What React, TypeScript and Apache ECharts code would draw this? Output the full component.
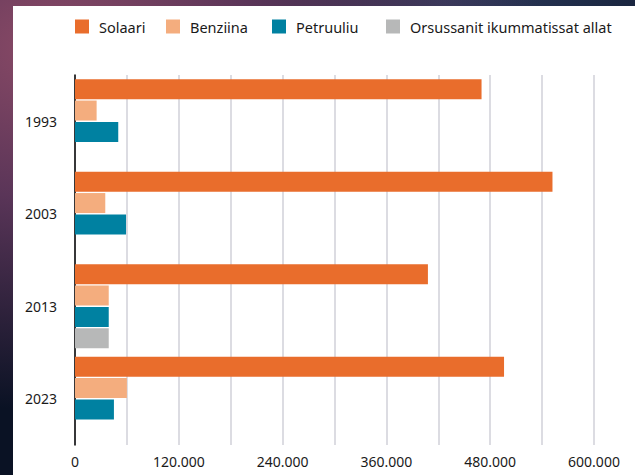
import React, { useEffect, useRef } from "react";
import * as echarts from "echarts";

const years = ["1993", "2003", "2013", "2023"];
const seriesNames = ["Solaari", "Benziina", "Petruuliu", "Orsussanit ikummatissat allat"];
const solaari = [470000, 552000, 408000, 496000];
const benziina = [25000, 35000, 39000, 60000];
const petruuliu = [50000, 59000, 39000, 45000];
const allat: (number | null)[] = [null, null, 39000, null];
const colors = ["#E96D2C", "#F4AD7E", "#0081A1", "#B7B8B8"];
const legendLefts = [75, 166, 272, 386];

const fmt = (v: number) => {
  if (v % 120000 !== 0) return "";
  if (v === 0) return "0";
  const s = String(v);
  return s.slice(0, s.length - 3) + "." + s.slice(s.length - 3);
};

export default function App() {
  const ref = useRef<HTMLDivElement>(null);
  useEffect(() => {
    if (!ref.current) return;
    const chart = echarts.init(ref.current, undefined, { renderer: "svg" });
    const font = "'Noto Sans', sans-serif";
    const values = [solaari, benziina, petruuliu, allat];
    chart.setOption({
      animation: false,
      textStyle: { fontFamily: font },
      graphic: [
        {
          type: "rect",
          left: 13,
          top: 6,
          shape: { width: 622, height: 469 },
          style: { fill: "#ffffff" },
          z: -10,
          silent: true,
        },
      ],
      legend: seriesNames.map((n, i) => ({
        data: [n],
        left: legendLefts[i],
        top: 19,
        padding: 0,
        itemWidth: 14,
        itemHeight: 14,
        icon: "rect",
        selectedMode: false,
        textStyle: {
          fontFamily: font,
          fontSize: 14.5,
          color: "#1a1a1a",
          padding: [0, 0, 0, 5],
        },
      })),
      grid: { left: 75, right: 41, top: 75, bottom: 30, containLabel: false },
      xAxis: {
        type: "value",
        min: 0,
        max: 600000,
        interval: 60000,
        axisLine: { show: false },
        axisTick: { show: false },
        splitLine: { show: true, lineStyle: { color: "#d0d0d8", width: 1.5 } },
        axisLabel: {
          formatter: fmt,
          fontFamily: font,
          fontSize: 14,
          color: "#1a1a1a",
          margin: 9,
        },
      },
      yAxis: {
        type: "category",
        data: years,
        inverse: true,
        axisLine: { show: true, lineStyle: { color: "#000000", width: 1.5 } },
        axisTick: { show: false },
        splitLine: { show: false },
        axisLabel: { fontFamily: font, fontSize: 14, color: "#1a1a1a", margin: 18 },
      },
      series: seriesNames.map((n, i) => ({
        name: n,
        type: "bar",
        data: values[i],
        barWidth: 20,
        barGap: "7%",
        itemStyle: { color: colors[i] },
      })),
    });
    return () => chart.dispose();
  }, []);
  return (
    <div
      style={{
        position: "fixed",
        left: 0,
        top: 0,
        width: 635,
        height: 475,
        background:
          "radial-gradient(ellipse at 8% 10%, #8a4a66 0%, #5a3558 25%, rgba(20,30,60,0) 60%), radial-gradient(ellipse at 70% 0%, #2b3a5c 0%, #0a1224 60%), linear-gradient(to bottom, #2a2440 0%, #0a1630 60%, #051024 100%)",
      }}
    >
      <div ref={ref} style={{ width: 635, height: 475 }} />
    </div>
  );
}
